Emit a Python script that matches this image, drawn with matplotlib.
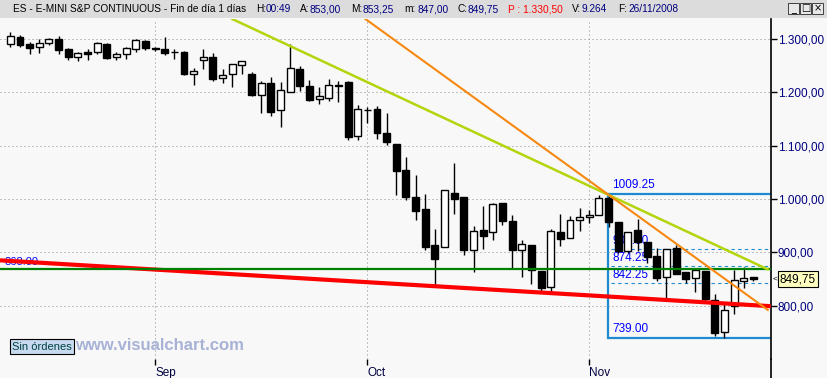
import numpy as np
import matplotlib
matplotlib.use("Agg")
import matplotlib.pyplot as plt
from matplotlib.transforms import blended_transform_factory
from matplotlib.patches import Rectangle
from matplotlib.lines import Line2D

plt.rcParams['font.family'] = ['Liberation Sans', 'DejaVu Sans']

# ES daily bars, 11 Aug - 26 Nov 2008
opens = [1290.0, 1303.0, 1290.5, 1284.5, 1292.0, 1300.0, 1281.5, 1267.0, 1276.0, 1275.0,
         1290.5, 1265.75, 1271.25, 1280.75, 1296.25, 1283.0, 1281.25, 1275.0, 1275.0, 1235.0,
         1261.25, 1266.25, 1226.25, 1233.75, 1250.75, 1234.5, 1194.5, 1217.0, 1166.25, 1201.25,
         1243.75, 1212.0, 1187.0, 1190.0, 1213.75, 1219.5, 1117.5, 1166.25, 1168.25, 1123.75,
         1103.0, 1054.5, 1003.75, 981.25, 913.75, 909.5, 1010.75, 1003.25, 903.75, 942.0,
         937.5, 993.0, 958.75, 903.75, 913.75, 865.0, 835.5, 938.0, 927.5, 960.0,
         965.75, 969.5, 1001.25, 956.25, 903.0, 941.25, 918.75, 892.5, 853.25, 907.5,
         863.0, 851.25, 865.5, 810.0, 750.0, 800.0, 846.75, 853.0]
highs = [1313.0, 1307.5, 1293.75, 1300.0, 1301.25, 1305.5, 1283.0, 1275.5, 1281.25, 1293.75,
         1292.5, 1275.0, 1285.0, 1300.0, 1298.75, 1285.5, 1304.25, 1281.25, 1277.5, 1245.5,
         1281.25, 1273.25, 1243.25, 1252.5, 1258.25, 1237.5, 1221.25, 1228.75, 1219.5, 1290.5,
         1249.5, 1223.0, 1209.5, 1225.0, 1221.25, 1221.25, 1176.25, 1173.0, 1174.5, 1161.75,
         1103.0, 1078.75, 1045.0, 1009.5, 943.75, 1016.25, 1067.0, 1003.25, 949.5, 987.0,
         993.0, 993.0, 970.0, 923.0, 913.75, 865.0, 943.75, 972.0, 968.0, 982.5,
         979.5, 1007.5, 1009.25, 956.25, 937.5, 962.0, 918.75, 908.0, 906.75, 913.75,
         863.0, 867.0, 865.5, 821.25, 802.5, 867.0, 873.0, 853.25]
lows = [1285.5, 1284.5, 1272.5, 1274.25, 1289.25, 1272.5, 1261.25, 1259.25, 1261.25, 1271.25,
        1263.0, 1261.25, 1263.0, 1275.0, 1279.5, 1278.0, 1270.0, 1262.5, 1233.0, 1214.25,
        1244.25, 1221.75, 1218.0, 1210.5, 1233.75, 1193.75, 1161.75, 1156.25, 1135.5, 1201.25,
        1203.0, 1184.25, 1178.75, 1184.25, 1182.5, 1110.5, 1110.5, 1142.0, 1112.5, 1101.75,
        1007.5, 998.0, 960.5, 904.5, 835.5, 909.5, 972.0, 895.5, 863.75, 906.25,
        923.0, 951.25, 870.0, 854.25, 840.5, 826.25, 826.25, 912.0, 927.5, 940.0,
        954.5, 969.5, 948.0, 899.5, 899.5, 902.5, 879.5, 846.75, 815.0, 860.0,
        842.0, 825.5, 804.5, 743.75, 739.0, 783.75, 832.5, 847.0]
closes = [1305.0, 1289.25, 1283.75, 1292.5, 1299.5, 1280.0, 1266.75, 1273.75, 1272.5, 1292.5,
          1265.0, 1272.0, 1283.0, 1298.0, 1282.5, 1280.75, 1274.25, 1275.25, 1235.0, 1239.5,
          1265.75, 1225.5, 1232.0, 1252.5, 1258.25, 1195.5, 1217.0, 1162.5, 1203.75, 1245.0,
          1212.5, 1186.25, 1192.5, 1213.25, 1211.25, 1116.75, 1168.25, 1166.0, 1124.25, 1107.5,
          1053.0, 1004.25, 978.0, 910.5, 887.5, 1016.25, 1000.5, 903.75, 940.0, 931.25,
          990.5, 958.75, 903.75, 915.0, 867.5, 833.75, 940.0, 925.5, 960.5, 965.75,
          970.0, 1001.25, 957.5, 903.0, 937.5, 920.0, 891.75, 852.5, 906.75, 860.0,
          850.0, 867.0, 812.0, 749.25, 791.25, 848.0, 851.25, 849.75]

month_pos = [15, 37, 60]
month_labels = ['Sep', 'Oct', 'Nov']
price_ticks = [800, 900, 1000, 1100, 1200, 1300]

# drawn objects
support = 868.0
red_x, red_y = [-1.07, 78.8], [885.0, 799.0]
lime_x, lime_y = [23.0, 78.5], [1337.5, 868.0]
orange_x, orange_y = [36.8, 78.5], [1337.5, 792.0]
fib_start = 61.9
fib_hi, fib_lo = 1009.25, 739.0
fib_ratios = [0.382, 0.5, 0.618]
last = 849.75

header = [("ES - E-MINI S&P CONTINUOUS - Fin de día 1 días", 13, 'black'),
          ("H:", 256, 'black'), ("00:49", 266, '#000080'),
          ("A:", 300, 'black'), ("853,00", 310, '#000080'),
          ("M:", 351, 'black'), ("853,25", 363, '#000080'),
          ("m:", 404, 'black'), ("847,00", 418, '#000080'),
          ("C:", 458, 'black'), ("849,75", 468, '#000080'),
          ("P : 1.330,50", 508, 'red'),
          ("V:", 572, 'black'), ("9.264", 582, '#000080'),
          ("F:", 618, 'black'), ("26/11/2008", 628, '#000080')]

W, H = 828, 378
bg = '#f8f8f8'
fig = plt.figure(figsize=(W / 100, H / 100), dpi=100, facecolor=bg)
ax = fig.add_axes([0, 1 - 359 / H, 771 / W, (359 - 19) / H])
ax.set_facecolor(bg)
ax.set_xlim(-1.07, 78.83)
ax.set_ylim(700, 1337.5)

o, h, l, c = map(np.array, (opens, highs, lows, closes))
x = np.arange(len(o))
up = c >= o
bot = np.minimum(o, c)
hgt = np.maximum(np.abs(c - o), 0.5)

ax.vlines(x, l, h, color='k', lw=1.0, zorder=3)
ax.bar(x[up], hgt[up], bottom=bot[up], width=0.72, color='white', edgecolor='k', lw=1, zorder=4)
ax.bar(x[~up], hgt[~up], bottom=bot[~up], width=0.72, color='k', edgecolor='k', lw=1, zorder=4)

# fibonacci box
box_c = '#1e8bd0'
xr = ax.get_xlim()[1]
ax.plot([fib_start, fib_start], [fib_lo, fib_hi], color=box_c, lw=1.6, zorder=2)
ax.hlines([fib_hi, fib_lo], fib_start, xr, color=box_c, lw=1.6, zorder=2)
for r in fib_ratios:
    lv = fib_lo + r * (fib_hi - fib_lo)
    ax.hlines(lv, fib_start + 0.3, xr, color=box_c, lw=0.8, ls=(0, (3, 3)), zorder=2)
    lab = np.floor(lv * 4 + 0.5) / 4
    ax.annotate(f"{lab:.2f}", (62.4, lv), xytext=(0, 1.5), textcoords='offset points',
                color='blue', fontsize=8.5, va='bottom', ha='left', zorder=1.5)
for lv in (fib_hi, fib_lo):
    ax.annotate(f"{lv:.2f}", (62.4, lv), xytext=(0, 2), textcoords='offset points',
                color='blue', fontsize=8.5, va='bottom', ha='left', zorder=1.5)

# trend lines
ax.plot(red_x, red_y, color='#ff0000', lw=3, zorder=5, solid_capstyle='butt')
ax.axhline(support, color='#008000', lw=1.6, zorder=5)
ax.annotate(f"{support:.2f}", (-0.6, support), xytext=(0, 2), textcoords='offset points',
            color='blue', fontsize=8, va='bottom', ha='left', zorder=4.5)
ax.plot(lime_x, lime_y, color='#b4d40c', lw=1.8, zorder=6)
ax.plot(orange_x, orange_y, color='#f7880f', lw=1.5, zorder=6)

# axes styling
ax.grid(True, color='#8c8c8c', ls=(0, (1, 3)), lw=0.72)
ax.set_axisbelow(True)
for s in ('left', 'top', 'bottom'):
    ax.spines[s].set_visible(False)
ax.spines['right'].set_linewidth(1.2)
ax.yaxis.tick_right()
ax.set_yticks(price_ticks)
ax.set_yticklabels([f"{v:,.2f}".replace(',', 'X').replace('.', ',').replace('X', '.') for v in price_ticks])
ax.tick_params(axis='y', direction='out', length=4, width=1, labelcolor='#000080',
               labelsize=8.5, pad=1)
ax.set_xticks(month_pos)
ax.set_xticklabels(month_labels, ha='left')
ax.tick_params(axis='x', direction='out', length=4, width=1, labelcolor='#000040',
               labelsize=8.5, pad=2)

# last price tag
trans = blended_transform_factory(ax.transAxes, ax.transData)
ax.text(780 / 771, last, f"{last:.2f}".replace('.', ','), transform=trans, ha='left',
        va='center', fontsize=8.5, color='k', clip_on=False,
        bbox=dict(boxstyle='square,pad=0.15', fc='#ffffc0', ec='k', lw=0.8))
ax.text(773 / 771, last, '<', transform=trans, ha='left', va='center', fontsize=6,
        color='k', clip_on=False)

# price panel separator continues to the bottom
fig.add_artist(Line2D([771 / W, 771 / W], [0, 1 - 359 / H], color='k', lw=1.2,
                      transform=fig.transFigure))

# header bar
fig.patches.append(Rectangle((0, 1 - 18 / H), 1, 18 / H, transform=fig.transFigure,
                             fc='#dcdcdc', ec='none', zorder=0))
for txt, px, col in header:
    fig.text(px / W, 1 - 9 / H, txt, color=col, fontsize=7.3, ha='left', va='center')
for bx, glyph in ((788, '_'), (800, '□'), (812, '×')):
    fig.patches.append(Rectangle((bx / W, 1 - 14 / H), 11 / W, 11 / H, transform=fig.transFigure,
                                 fc='#e8e8e8', ec='#404040', lw=0.7))
    fig.text((bx + 5.5) / W, 1 - 8.5 / H, glyph, fontsize=7, ha='center', va='center',
             family='DejaVu Sans')

# footer
fig.text(12 / W, 1 - 346.5 / H, 'Sin órdenes', fontsize=8, color='#004040', ha='left',
         va='center', bbox=dict(boxstyle='square,pad=0.2', fc='#c8daf0', ec='k', lw=0.8))
fig.text(75 / W, 1 - 346 / H, 'www.visualchart.com', fontsize=12, fontweight='bold',
         color='#a8b2d6', ha='left', va='center')

fig.savefig('out.png', dpi=100, facecolor=bg)
